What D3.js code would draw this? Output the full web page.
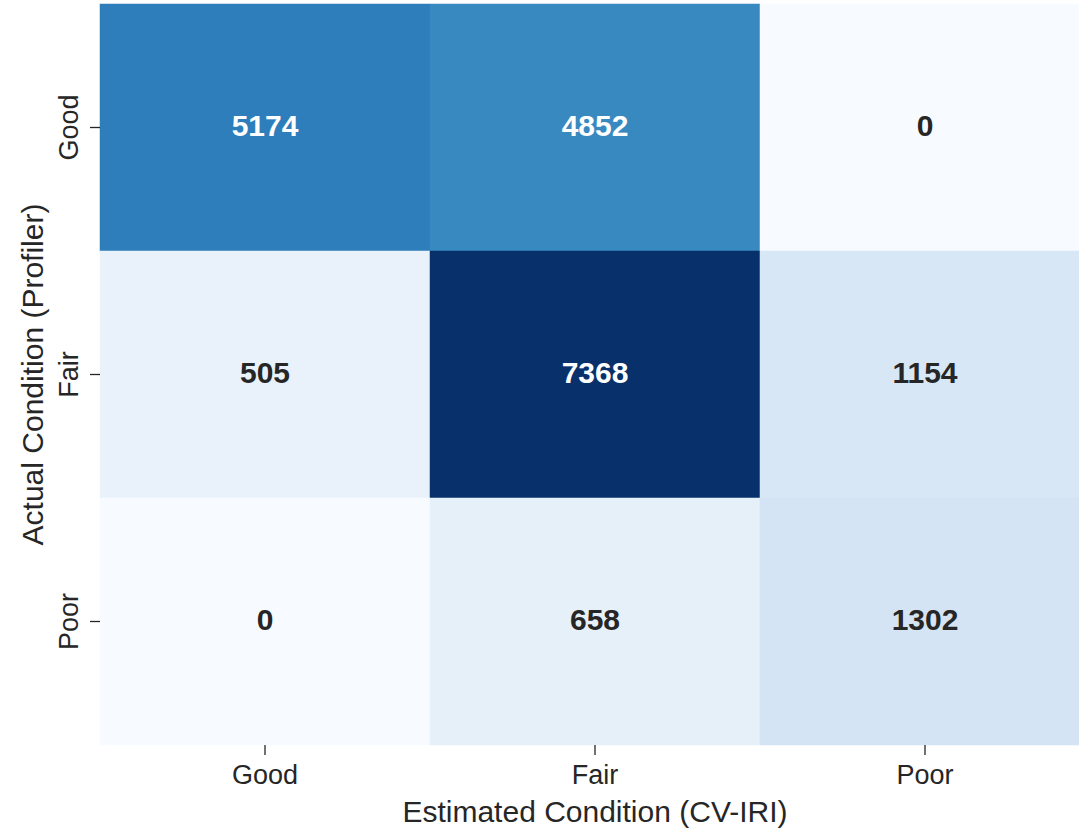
<!DOCTYPE html>
<html>
<head>
<meta charset="utf-8">
<script src="https://cdn.jsdelivr.net/npm/d3@7"></script>
<style>
  body { margin: 0; background: #fff; }
  svg text { font-family: "Liberation Sans", Arial, sans-serif; fill: #262626; }
</style>
</head>
<body>
<div id="heatmap"></div>
<script>
// confusion matrix values
var actual = ["Good", "Fair", "Poor"];      // rows
var estimated = ["Good", "Fair", "Poor"];   // columns
var counts = [
  [5174, 4852, 0],
  [505, 7368, 1154],
  [0, 658, 1302]
];
var blues = ["#f7fbff", "#deebf7", "#c6dbef", "#9ecae1", "#6baed6", "#4292c6", "#2171b5", "#08519c", "#08306b"];

function main() {
  const W = 1079, H = 831;
  const margin = {top: 4, left: 100};
  const plotW = 990, plotH = 741;

  const svg = d3.select("#heatmap")
    .append("svg")
    .attr("width", W)
    .attr("height", H);

  var x = d3.scaleBand().domain(estimated).range([margin.left, margin.left + plotW]);
  var y = d3.scaleBand().domain(actual).range([margin.top, margin.top + plotH]);

  var maxVal = d3.max(counts, r => d3.max(r));
  var color = d3.scaleLinear()
    .domain(blues.map((c, i) => i / (blues.length - 1) * maxVal))
    .range(blues)
    .interpolate(d3.interpolateRgb);

  // flatten the matrix
  var cells = [];
  counts.forEach((row, i) => row.forEach((v, j) => {
    cells.push({row: actual[i], col: estimated[j], value: v});
  }));

  // relative luminance like matplotlib, to pick label colour
  function lum(c) {
    var rgb = d3.rgb(c);
    var lin = [rgb.r, rgb.g, rgb.b].map(v => {
      v = v / 255;
      return v <= 0.03928 ? v / 12.92 : Math.pow((v + 0.055) / 1.055, 2.4);
    });
    return 0.2126 * lin[0] + 0.7152 * lin[1] + 0.0722 * lin[2];
  }

  var cell = svg.append("g");
  cell.selectAll("rect")
    .data(cells)
    .enter()
    .append("rect")
      .attr("x", d => x(d.col))
      .attr("y", d => y(d.row))
      .attr("width", x.bandwidth())
      .attr("height", y.bandwidth())
      .attr("fill", d => color(d.value))
      .attr("stroke", d => color(d.value))
      .attr("stroke-width", 0.5);

  cell.selectAll("text")
    .data(cells)
    .enter()
    .append("text")
      .attr("x", d => x(d.col) + x.bandwidth() / 2)
      .attr("y", d => y(d.row) + y.bandwidth() / 2)
      .attr("dy", "0.28em")
      .attr("text-anchor", "middle")
      .style("font-size", "30px")
      .style("font-weight", "bold")
      .style("fill", d => lum(color(d.value)) > 0.408 ? "#262626" : "#ffffff")
      .text(d => d.value);

  // X axis
  var xAxis = svg.append("g")
    .attr("transform", `translate(0, ${margin.top + plotH})`)
    .call(d3.axisBottom(x).tickSize(10).tickPadding(10));
  xAxis.select(".domain").remove();
  xAxis.selectAll(".tick line").attr("stroke", "#262626").attr("stroke-width", 1.3);
  xAxis.selectAll(".tick text").style("font-size", "27px").attr("fill", "#262626");

  // Y axis
  var yAxis = svg.append("g")
    .attr("transform", `translate(${margin.left}, 0)`)
    .call(d3.axisLeft(y).tickSize(10));
  yAxis.select(".domain").remove();
  yAxis.selectAll(".tick line").attr("stroke", "#262626").attr("stroke-width", 1.3);
  yAxis.selectAll(".tick text")
    .style("font-size", "27px")
    .attr("fill", "#262626")
    .attr("x", null).attr("dy", null)
    .attr("text-anchor", "middle")
    .attr("transform", "translate(-22, 0) rotate(-90)");

  // axis labels
  svg.append("text")
    .attr("text-anchor", "middle")
    .attr("x", margin.left + plotW / 2)
    .attr("y", 822)
    .style("font-size", "30px")
    .text("Estimated Condition (CV-IRI)");

  svg.append("text")
    .attr("text-anchor", "middle")
    .attr("transform", `translate(43, ${margin.top + plotH / 2}) rotate(-90)`)
    .style("font-size", "30px")
    .text("Actual Condition (Profiler)");
}

main();
</script>
</body>
</html>
